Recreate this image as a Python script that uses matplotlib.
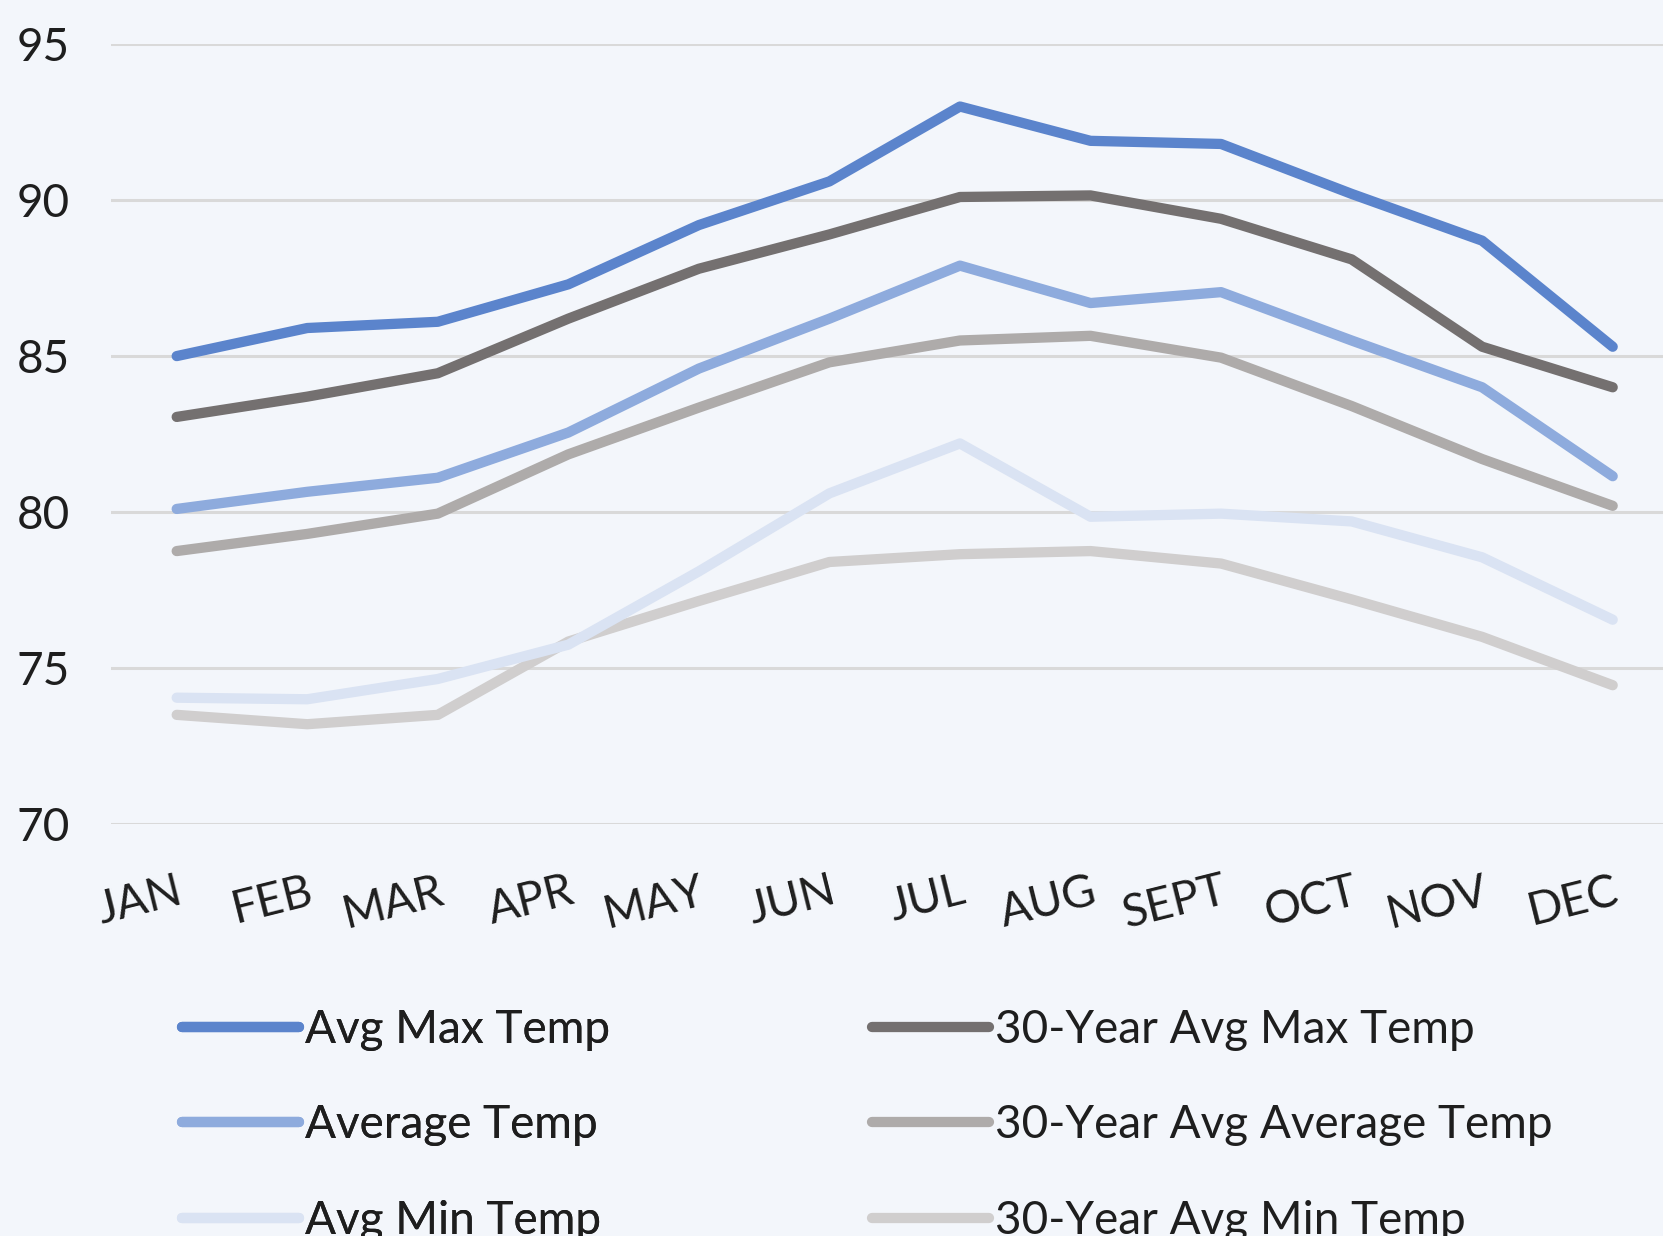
import matplotlib
matplotlib.use('Agg')
import matplotlib.pyplot as plt

months = ['JAN', 'FEB', 'MAR', 'APR', 'MAY', 'JUN', 'JUL', 'AUG', 'SEPT', 'OCT', 'NOV', 'DEC']

avg_max = [85.0, 85.9, 86.1, 87.3, 89.2, 90.6, 93.0, 91.9, 91.8, 90.2, 88.7, 85.3]
avg_temp = [80.1, 80.65, 81.1, 82.55, 84.6, 86.2, 87.9, 86.7, 87.05, 85.5, 84.0, 81.15]
avg_min = [74.05, 74.0, 74.65, 75.75, 78.1, 80.6, 82.2, 79.85, 79.95, 79.7, 78.55, 76.55]
yr30_max = [83.05, 83.7, 84.45, 86.2, 87.8, 88.9, 90.1, 90.15, 89.4, 88.1, 85.3, 84.0]
yr30_avg = [78.75, 79.3, 79.95, 81.85, 83.35, 84.8, 85.5, 85.65, 84.95, 83.4, 81.7, 80.2]
yr30_min = [73.5, 73.2, 73.5, 75.85, 77.15, 78.4, 78.65, 78.75, 78.35, 77.2, 76.0, 74.45]

series = [
    ('Avg Max Temp', avg_max, '#5B84CC'),
    ('Average Temp', avg_temp, '#8EABDD'),
    ('Avg Min Temp', avg_min, '#DAE3F3'),
    ('30-Year Avg Max Temp', yr30_max, '#747070'),
    ('30-Year Avg Average Temp', yr30_avg, '#AEABAA'),
    ('30-Year Avg Min Temp', yr30_min, '#D0CECE'),
]

plt.rcParams['font.family'] = ['Lato', 'DejaVu Sans']
fs = 33
txt = '#1e1e1e'

bg = '#F3F6FB'
fig = plt.figure(figsize=(16.63, 12.36), dpi=100, facecolor=bg)
ax = fig.add_axes([0.067, 0.3333, 0.942, 0.631], facecolor=bg)

# draw in reverse so Avg Max ends up on top
x = list(range(len(months)))
lines = {}
for name, vals, col in reversed(series):
    ln, = ax.plot(x, vals, color=col, lw=7.4, solid_capstyle='round',
                  solid_joinstyle='round', label=name, zorder=3)
    lines[name] = ln

ax.set_xlim(-0.5, 11.5)
ax.set_ylim(70, 95)
ax.set_yticks([70, 75, 80, 85, 90, 95])
ax.grid(axis='y', color='#D9D9D9', lw=2.2, zorder=0)
for s in ax.spines.values():
    s.set_visible(False)
ax.tick_params(axis='both', length=0, labelsize=fs, labelcolor=txt)
ax.tick_params(axis='y', pad=30)
ax.tick_params(axis='x', pad=33)
ax.set_xticks(x)
ax.set_xticklabels(months, rotation=14, ha='right', va='top',
                   rotation_mode='anchor')

common = dict(loc='upper left', frameon=False, fontsize=fs, handlelength=2.55,
              handletextpad=0.14, labelspacing=1.17, labelcolor=txt,
              borderaxespad=0, borderpad=0)
left = [lines[n] for n, _, _ in series[:3]]
right = [lines[n] for n, _, _ in series[3:]]
leg1 = fig.legend(left, [h.get_label() for h in left],
                  bbox_to_anchor=(0.1094, 0.184), **common)
fig.add_artist(leg1)
fig.legend(right, [h.get_label() for h in right],
           bbox_to_anchor=(0.5243, 0.184), **common)

fig.savefig('out.png', dpi=100, facecolor=bg)
